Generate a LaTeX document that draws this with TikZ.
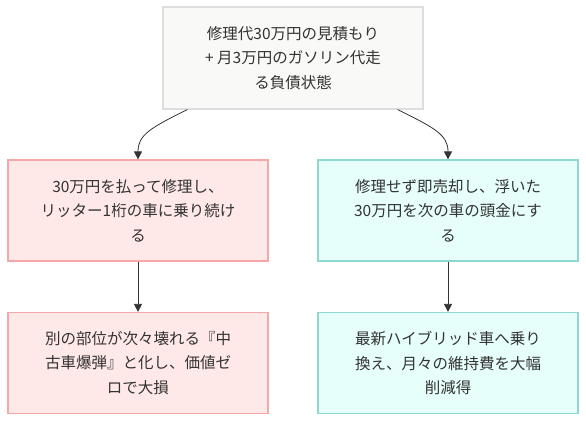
\documentclass[tikz,border=0pt]{standalone}
\usepackage{fontspec}
\setmainfont{Noto Sans CJK JP}
\usepackage{xcolor}
\usetikzlibrary{arrows.meta}

\definecolor{txtgray}{HTML}{333333}
\definecolor{rootfill}{HTML}{F9F9F7}
\definecolor{rootline}{HTML}{DEDEDE}
\definecolor{badfill}{HTML}{FFE8E8}
\definecolor{badline}{HTML}{F6A8A8}
\definecolor{goodfill}{HTML}{E6FFFA}
\definecolor{goodline}{HTML}{8ED8D0}

\tikzset{
  box/.style={draw, line width=1.2pt, minimum width=260pt, minimum height=101pt,
    align=center, text=txtgray, font=\fontsize{15.5}{24.5}\selectfont, inner sep=0pt},
  rootbox/.style={box, fill=rootfill, draw=rootline, minimum height=102pt},
  badbox/.style={box, fill=badfill, draw=badline},
  goodbox/.style={box, fill=goodfill, draw=goodline},
  link/.style={draw=txtgray, line width=0.8pt, -{Triangle[length=8pt,width=8pt]}}
}

\begin{document}
\begin{tikzpicture}[x=1pt,y=-1pt]
\useasboundingbox (0,0) rectangle (586,422);

\node[rootbox] (debt) at (293,58) {修理代30万円の見積もり\\+ 月3万円のガソリン代走\\る負債状態};

\node[badbox] (repair) at (138,210.5) {30万円を払って修理し、\\リッター1桁の車に乗り続け\\る};
\node[goodbox] (sell) at (448,210.5) {修理せず即売却し、浮いた\\30万円を次の車の頭金にす\\る};

\node[badbox] (bomb) at (138,363) {別の部位が次々壊れる『中\\古車爆弾』と化し、価値ゼ\\ロで大損};
\node[goodbox] (hybrid) at (448,363) {最新ハイブリッド車へ乗り\\換え、月々の維持費を大幅\\削減得};

% curved links out of the root box
\coordinate (debtL) at ([xshift=25pt]debt.south west);
\coordinate (debtR) at ([xshift=-26pt]debt.south east);
\draw[link] (debtL) .. controls (150,128) and (138,135) .. (repair.north);
\draw[link] (debtR) .. controls (435,128) and (448,135) .. (sell.north);

\draw[link] (repair) -- (bomb);
\draw[link] (sell) -- (hybrid);
\end{tikzpicture}
\end{document}
